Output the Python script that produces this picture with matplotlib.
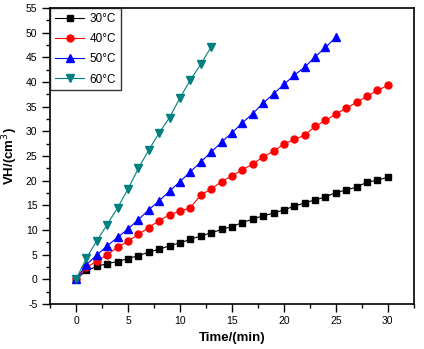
import matplotlib.pyplot as plt
from matplotlib.ticker import MultipleLocator

plt.rcParams['font.family'] = ['Liberation Sans', 'DejaVu Sans']
plt.rcParams['axes.unicode_minus'] = False

t30 = list(range(0, 31))
v30 = [0, 1.8, 2.6, 3.2, 3.6, 4.2, 4.8, 5.5, 6.1, 6.8, 7.4, 8.1, 8.8, 9.4,
       10.1, 10.7, 11.5, 12.2, 12.9, 13.4, 14.1, 14.8, 15.5, 16.1, 16.7,
       17.6, 18.1, 18.7, 19.7, 20.1, 20.7]
t40 = list(range(0, 31))
v40 = [0, 2.4, 3.7, 5.0, 6.5, 7.7, 9.1, 10.5, 11.9, 13.1, 13.8, 14.5, 17.1,
       18.3, 19.8, 21.0, 22.2, 23.4, 24.8, 26.0, 27.4, 28.4, 29.2, 31.0,
       32.2, 33.5, 34.7, 35.9, 37.1, 38.3, 39.3]
t50 = list(range(0, 26))
v50 = [0, 3.0, 4.9, 6.8, 8.5, 10.2, 12.1, 14.1, 15.9, 17.9, 19.8, 21.8,
       23.8, 25.8, 27.8, 29.7, 31.7, 33.6, 35.7, 37.6, 39.5, 41.4, 43.0,
       45.1, 47.0, 49.1]
t60 = list(range(0, 14))
v60 = [0, 4.3, 7.8, 11.1, 14.5, 18.3, 22.5, 26.2, 29.7, 32.8, 36.8, 40.4,
       43.6, 47.1]

series = [
    (t30, v30, '30°C', 'black', 's', 4.3),
    (t40, v40, '40°C', 'red', 'o', 5.0),
    (t50, v50, '50°C', 'blue', '^', 5.8),
    (t60, v60, '60°C', '#008080', 'v', 5.8),
]

fig = plt.figure(figsize=(4.24, 3.49), dpi=100)
ax = fig.add_axes([0.118, 0.129, 0.858, 0.848])

for t, v, name, col, mk, ms in series:
    ax.plot(t, v, color=col, marker=mk, markersize=ms, linewidth=0.8, label=name)

ax.set_xlim(-2.5, 32.5)
ax.set_ylim(-5, 55)
ax.xaxis.set_major_locator(MultipleLocator(5))
ax.xaxis.set_minor_locator(MultipleLocator(2.5))
ax.yaxis.set_major_locator(MultipleLocator(5))
ax.yaxis.set_minor_locator(MultipleLocator(2.5))
ax.tick_params(which='major', direction='out', length=6, width=1, pad=3,
               labelsize=7.5, top=False, right=False)
ax.tick_params(which='minor', direction='out', length=3, width=1, top=False, right=False)
ax.set_xticks([0, 5, 10, 15, 20, 25, 30])
for s in ax.spines.values():
    s.set_linewidth(1.2)

ax.set_xlabel('Time/(min)', fontsize=9.5, fontweight='bold', labelpad=4)
ax.set_ylabel('VH/(cm$^3$)', fontsize=9.5, fontweight='bold', labelpad=4)

leg = ax.legend(loc='upper left', fontsize=8.5, frameon=True, fancybox=False,
                edgecolor='black', borderaxespad=0, handlelength=2.5,
                handletextpad=0.45, borderpad=0.4, labelspacing=0.7)
leg.get_frame().set_linewidth(1.0)

fig.savefig('out.png', dpi=100)
